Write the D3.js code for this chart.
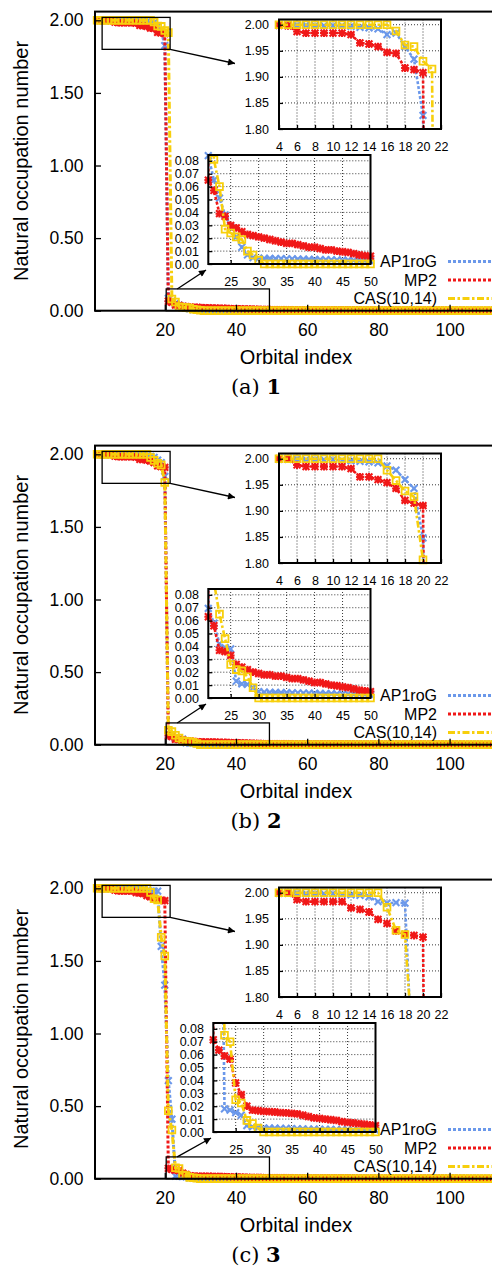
<!DOCTYPE html>
<html>
<head>
<meta charset="utf-8">
<script src="https://cdn.jsdelivr.net/npm/d3@7"></script>
<style>
  body { margin: 0; background: #fff; }
  svg { display: block; }
</style>
</head>
<body>
<svg id="chart" width="492" height="1268"></svg>
<script>
// occupation numbers, orbitals 1..50 for each molecule
var ap1rogA = [
  2.000, 2.000, 1.999, 1.999, 1.999, 1.999, 1.999, 1.998, 1.998, 1.998,
  1.998, 1.997, 1.995, 1.994, 1.992, 1.981, 1.984, 1.958, 1.934, 1.826,
  0.084, 0.065, 0.051, 0.038, 0.029, 0.021, 0.013, 0.007, 0.005, 0.0045,
  0.0044, 0.0043, 0.0042, 0.0041, 0.0040, 0.0039, 0.0038, 0.0037, 0.0036, 0.0035,
  0.0034, 0.0033, 0.0032, 0.0031, 0.0030, 0.0029, 0.0028, 0.0027, 0.0026, 0.0025
];
var mp2A = [
  2.000, 2.000, 1.999, 1.999, 1.998, 1.987, 1.984, 1.984, 1.984, 1.984,
  1.984, 1.981, 1.965, 1.963, 1.958, 1.947, 1.945, 1.917, 1.914, 1.908,
  0.065, 0.057, 0.039, 0.037, 0.030, 0.028, 0.025, 0.023, 0.022, 0.021,
  0.020, 0.019, 0.018, 0.017, 0.016, 0.016, 0.015, 0.014, 0.013, 0.013,
  0.012, 0.011, 0.011, 0.010, 0.0095, 0.009, 0.008, 0.007, 0.0065, 0.006
];
var casA = [
  2.000, 2.000, 2.000, 2.000, 2.000, 2.000, 2.000, 2.000, 2.000, 2.000,
  2.000, 2.000, 2.000, 2.000, 2.000, 2.000, 1.988, 1.961, 1.958, 1.930,
  1.915, 0.081, 0.060, 0.027, 0.024, 0.021, 0.019, 0.010, 0.007, 0.003,
  0, 0, 0, 0, 0, 0, 0, 0, 0, 0,
  0, 0, 0, 0, 0, 0, 0, 0, 0, 0
];

var ap1rogB = [
  2.000, 2.000, 1.999, 1.999, 1.999, 1.999, 1.998, 1.998, 1.998, 1.998,
  1.997, 1.996, 1.995, 1.994, 1.992, 1.986, 1.978, 1.960, 1.943, 1.848,
  0.0695, 0.058, 0.042, 0.039, 0.038, 0.013, 0.011, 0.0105, 0.008, 0.005,
  0.0045, 0.0044, 0.0043, 0.0042, 0.0041, 0.0040, 0.0039, 0.0038, 0.0037, 0.0036,
  0.0035, 0.0034, 0.0033, 0.0032, 0.0031, 0.0030, 0.0029, 0.0028, 0.0027, 0.0026
];
var mp2B = [
  2.000, 2.000, 1.999, 2.000, 2.000, 1.988, 1.985, 1.985, 1.985, 1.985,
  1.985, 1.981, 1.965, 1.965, 1.960, 1.954, 1.943, 1.920, 1.915, 1.910,
  0.063, 0.056, 0.037, 0.036, 0.033, 0.026, 0.024, 0.022, 0.020, 0.019,
  0.018, 0.018, 0.017, 0.017, 0.016, 0.015, 0.015, 0.014, 0.013, 0.012,
  0.012, 0.011, 0.010, 0.0095, 0.0087, 0.008, 0.007, 0.006, 0.0055, 0.005
];
var casB = [
  2.000, 2.000, 2.000, 2.000, 2.000, 2.000, 2.000, 2.000, 2.000, 2.000,
  2.000, 2.000, 2.000, 2.000, 2.000, 1.978, 1.958, 1.938, 1.927, 1.806,
  0.100, 0.090, 0.065, 0.046, 0.026, 0.022, 0.021, 0.0165, 0.008, 0,
  0, 0, 0, 0, 0, 0, 0, 0, 0, 0,
  0, 0, 0, 0, 0, 0, 0, 0, 0, 0
];

var ap1rogC = [
  2.000, 2.000, 1.999, 1.999, 1.999, 1.999, 1.998, 1.998, 1.998, 1.998,
  1.997, 1.996, 1.995, 1.992, 1.983, 1.980, 1.981, 1.980, 1.600, 1.333,
  0.675, 0.410, 0.018, 0.017, 0.015, 0.013, 0.005, 0.004, 0.0035, 0.003,
  0.003, 0.0029, 0.0028, 0.0027, 0.0026, 0.0025, 0.0024, 0.0023, 0.0022, 0.0021,
  0.0020, 0.0020, 0.0019, 0.0018, 0.0018, 0.0017, 0.0016, 0.0016, 0.0015, 0.0015
];
var mp2C = [
  2.000, 2.000, 1.999, 2.000, 2.000, 1.987, 1.983, 1.983, 1.983, 1.983,
  1.983, 1.971, 1.968, 1.963, 1.949, 1.941, 1.927, 1.920, 1.918, 1.915,
  0.0715, 0.0635, 0.059, 0.0565, 0.038, 0.029, 0.020, 0.017, 0.0165, 0.016,
  0.0158, 0.0155, 0.015, 0.0148, 0.0145, 0.014, 0.013, 0.012, 0.011, 0.0105,
  0.010, 0.0095, 0.009, 0.008, 0.0075, 0.007, 0.0065, 0.006, 0.0055, 0.005
];
var casC = [
  2.000, 2.000, 2.000, 2.000, 2.000, 2.000, 2.000, 2.000, 2.000, 2.000,
  2.000, 2.000, 2.000, 2.000, 2.000, 1.972, 1.928, 1.920, 1.663, 1.534,
  0.468, 0.335, 0.075, 0.070, 0.025, 0.0225, 0.009, 0.0065, 0.003, 0,
  0, 0, 0, 0, 0, 0, 0, 0, 0, 0,
  0, 0, 0, 0, 0, 0, 0, 0, 0, 0
];

// orbitals 51..114, all well below one pixel on the main axis
var ap1rogTail = [
  0.0025, 0.0024, 0.0024, 0.0023, 0.0023, 0.0022, 0.0022, 0.0021, 0.0021, 0.0020,
  0.0020, 0.0019, 0.0019, 0.0018, 0.0018, 0.0017, 0.0017, 0.0016, 0.0016, 0.0015,
  0.0015, 0.0015, 0.0014, 0.0014, 0.0013, 0.0013, 0.0013, 0.0012, 0.0012, 0.0011,
  0.0011, 0.0011, 0.0010, 0.0010, 0.0010, 0.0009, 0.0009, 0.0009, 0.0008, 0.0008,
  0.0008, 0.0008, 0.0007, 0.0007, 0.0007, 0.0007, 0.0006, 0.0006, 0.0006, 0.0006,
  0.0005, 0.0005, 0.0005, 0.0005, 0.0005, 0.0004, 0.0004, 0.0004, 0.0004, 0.0004,
  0.0003, 0.0003, 0.0003, 0.0003
];
var mp2Tail = [
  0.0055, 0.0053, 0.0052, 0.0050, 0.0049, 0.0047, 0.0046, 0.0045, 0.0043, 0.0042,
  0.0041, 0.0040, 0.0039, 0.0038, 0.0037, 0.0036, 0.0035, 0.0034, 0.0033, 0.0032,
  0.0031, 0.0030, 0.0029, 0.0029, 0.0028, 0.0027, 0.0026, 0.0026, 0.0025, 0.0024,
  0.0024, 0.0023, 0.0022, 0.0022, 0.0021, 0.0021, 0.0020, 0.0019, 0.0019, 0.0018,
  0.0018, 0.0017, 0.0017, 0.0016, 0.0016, 0.0015, 0.0015, 0.0014, 0.0014, 0.0013,
  0.0013, 0.0012, 0.0012, 0.0012, 0.0011, 0.0011, 0.0010, 0.0010, 0.0010, 0.0009,
  0.0009, 0.0009, 0.0008, 0.0008
];
var casTail = [
  0, 0, 0, 0, 0, 0, 0, 0, 0, 0, 0, 0, 0, 0, 0, 0,
  0, 0, 0, 0, 0, 0, 0, 0, 0, 0, 0, 0, 0, 0, 0, 0,
  0, 0, 0, 0, 0, 0, 0, 0, 0, 0, 0, 0, 0, 0, 0, 0,
  0, 0, 0, 0, 0, 0, 0, 0, 0, 0, 0, 0, 0, 0, 0, 0
];

var methodNames = ['AP1roG', 'MP2', 'CAS(10,14)'];
var captionLetters = ['a', 'b', 'c'];
var captionNumbers = ['1', '2', '3'];

var mainYTicks = [0, 0.5, 1, 1.5, 2];
var mainXTicks = [20, 40, 60, 80, 100];
var topInsetXTicks = [4, 6, 8, 10, 12, 14, 16, 18, 20, 22];
var topInsetYTicks = [1.80, 1.85, 1.90, 1.95, 2.00];
var botInsetXTicks = [25, 30, 35, 40, 45, 50];
var botInsetYTicks = [0, 0.01, 0.02, 0.03, 0.04, 0.05, 0.06, 0.07, 0.08];

var colors = ['#6b98ea', '#f01818', '#f7cf0c'];
var dashes = ['3,2', '3,2', '7,2.5,2.5,2.5'];
var markers = ['cross', 'star', 'square'];
var sans = '"Liberation Sans", Arial, Helvetica, sans-serif';
var PANEL_DY = 434;

var svg = d3.select('#chart');
var defs = svg.append('defs');
defs.append('marker')
  .attr('id', 'arrowhead')
  .attr('viewBox', '0 0 10 10')
  .attr('refX', 10).attr('refY', 5)
  .attr('markerWidth', 10).attr('markerHeight', 7)
  .attr('markerUnits', 'userSpaceOnUse')
  .attr('orient', 'auto')
  .append('path').attr('d', 'M0,0 L10,5 L0,10 Z').attr('fill', '#000');

var panels = [
  { series: [ap1rogA.concat(ap1rogTail), mp2A.concat(mp2Tail), casA.concat(casTail)], shift: 0 },
  { series: [ap1rogB.concat(ap1rogTail), mp2B.concat(mp2Tail), casB.concat(casTail)], shift: 0 },
  { series: [ap1rogC.concat(ap1rogTail), mp2C.concat(mp2Tail), casC.concat(casTail)], shift: 5 }
];

function toPoints(values) {
  return values.map(function(v, i) { return { i: i + 1, v: v }; });
}

function markerPath(type, s) {
  if (type === 'cross') {
    return 'M' + -s + ',' + -s + 'L' + s + ',' + s + 'M' + -s + ',' + s + 'L' + s + ',' + -s;
  }
  if (type === 'star') {
    var t = s * 1.15;
    return 'M' + -s + ',' + -s + 'L' + s + ',' + s + 'M' + -s + ',' + s + 'L' + s + ',' + -s +
      'M' + -t + ',0L' + t + ',0M0,' + -t + 'L0,' + t;
  }
  return 'M' + -s + ',' + -s + 'H' + s + 'V' + s + 'H' + -s + 'Z';
}

function drawSeries(g, x, y, clipId, lw, ms) {
  var dom = x.domain(), ydom = y.domain();
  var line = d3.line().x(function(d) { return x(d.i); }).y(function(d) { return y(d.v); });
  return function(values, k) {
    var pts = toPoints(values);
    g.append('path')
      .datum(pts)
      .attr('clip-path', 'url(#' + clipId + ')')
      .attr('d', line)
      .attr('fill', 'none')
      .attr('stroke', colors[k])
      .attr('stroke-width', lw)
      .attr('stroke-dasharray', dashes[k]);
    var inside = pts.filter(function(d) {
      return d.i >= dom[0] - 1e-6 && d.i <= dom[1] + 1e-6 && d.v >= ydom[0] - 1e-6 && d.v <= ydom[1] + 1e-6;
    });
    g.selectAll(null)
      .data(inside)
      .enter().append('path')
      .attr('transform', function(d) { return 'translate(' + x(d.i) + ',' + y(d.v) + ')'; })
      .attr('d', markerPath(markers[k], ms))
      .attr('fill', 'none')
      .attr('stroke', colors[k])
      .attr('stroke-width', markers[k] === 'square' ? 1.8 : 2.1);
  };
}

function styleAxis(sel, size) {
  sel.select('.domain').remove();
  sel.selectAll('.tick line').attr('stroke', '#000').attr('stroke-width', 1.3);
  sel.selectAll('.tick text')
    .attr('fill', '#000')
    .style('font-family', sans)
    .style('font-size', size + 'px');
}

function drawInset(g, opt, seriesList, clipId) {
  var x = d3.scaleLinear().domain(opt.xd).range([opt.x0, opt.x1]);
  var y = d3.scaleLinear().domain(opt.yd).range([opt.y1, opt.y0]);

  g.append('clipPath').attr('id', clipId)
    .append('rect').attr('x', opt.x0).attr('y', opt.y0)
    .attr('width', opt.x1 - opt.x0).attr('height', opt.y1 - opt.y0);

  g.append('rect')
    .attr('x', opt.x0).attr('y', opt.y0)
    .attr('width', opt.x1 - opt.x0).attr('height', opt.y1 - opt.y0)
    .attr('fill', '#fff');

  var grid = g.append('g')
    .attr('stroke', '#222').attr('stroke-width', 0.9).attr('stroke-dasharray', '1,2');
  opt.xt.forEach(function(t) {
    if (x(t) > opt.x0 + 1 && x(t) < opt.x1 - 1) {
      grid.append('line').attr('x1', x(t)).attr('x2', x(t)).attr('y1', opt.y0).attr('y2', opt.y1);
    }
  });
  opt.yt.forEach(function(t) {
    if (y(t) > opt.y0 + 1 && y(t) < opt.y1 - 1) {
      grid.append('line').attr('y1', y(t)).attr('y2', y(t)).attr('x1', opt.x0).attr('x2', opt.x1);
    }
  });

  var draw = drawSeries(g, x, y, clipId, 2.6, 3.4);
  seriesList.forEach(draw);

  var ax = g.append('g')
    .attr('transform', 'translate(0,' + opt.y1 + ')')
    .call(d3.axisBottom(x).tickValues(opt.xt).tickSize(-4).tickPadding(opt.xpad).tickFormat(d3.format('d')));
  styleAxis(ax, 12.5);
  var ay = g.append('g')
    .attr('transform', 'translate(' + opt.x0 + ',0)')
    .call(d3.axisLeft(y).tickValues(opt.yt).tickSize(-4).tickPadding(opt.ypad).tickFormat(d3.format('.2f')));
  styleAxis(ay, 12.5);

  g.append('rect')
    .attr('x', opt.x0).attr('y', opt.y0)
    .attr('width', opt.x1 - opt.x0).attr('height', opt.y1 - opt.y0)
    .attr('fill', 'none').attr('stroke', '#000').attr('stroke-width', 2);
}

panels.forEach(function(p, k) {
  var g = svg.append('g').attr('transform', 'translate(0,' + k * PANEL_DY + ')');

  var x = d3.scaleLinear().domain([0.4, 120]).range([95, 95 + 119.6 * 3.56]);
  var y = d3.scaleLinear().domain([0, 2.06]).range([310.7, 11.6]);
  var clipId = 'main' + k;

  g.append('clipPath').attr('id', clipId)
    .append('rect').attr('x', 95).attr('y', 11.6).attr('width', 500).attr('height', 299.1);

  var draw = drawSeries(g, x, y, clipId, 3, 3.4);
  p.series.forEach(draw);

  var ay = g.append('g')
    .attr('transform', 'translate(95,0)')
    .call(d3.axisLeft(y).tickValues(mainYTicks).tickSize(-6).tickPadding(11.5).tickFormat(d3.format('.2f')));
  styleAxis(ay, 17.5);
  var ax = g.append('g')
    .attr('transform', 'translate(0,310.7)')
    .call(d3.axisBottom(x).tickValues(mainXTicks).tickSize(-6).tickPadding(13).tickFormat(d3.format('d')));
  styleAxis(ax, 17.5);

  g.append('rect')
    .attr('x', 95).attr('y', 11.6).attr('width', 520).attr('height', 299.1)
    .attr('fill', 'none').attr('stroke', '#000').attr('stroke-width', 2);

  // zoom boxes and arrows
  var bx0 = x(2.4), bx1 = x(21.5), by0 = y(2.02), by1 = y(1.80);
  g.append('rect').attr('x', bx0).attr('y', by0).attr('width', bx1 - bx0).attr('height', by1 - by0)
    .attr('fill', 'none').attr('stroke', '#000').attr('stroke-width', 1.3);
  g.append('line').attr('x1', bx1).attr('y1', by1).attr('x2', 235).attr('y2', 63.5)
    .attr('stroke', '#000').attr('stroke-width', 1.3).attr('marker-end', 'url(#arrowhead)');

  var cx0 = x(20.4), cx1 = x(49.4), cy0 = y(0.15), cy1 = y(0);
  g.append('rect').attr('x', cx0).attr('y', cy0).attr('width', cx1 - cx0).attr('height', cy1 - cy0)
    .attr('fill', 'none').attr('stroke', '#000').attr('stroke-width', 1.3);
  g.append('line').attr('x1', cx0 + 11).attr('y1', cy0).attr('x2', 206 + p.shift).attr('y2', 270)
    .attr('stroke', '#000').attr('stroke-width', 1.3).attr('marker-end', 'url(#arrowhead)');

  drawInset(g, {
    x0: 279, x1: 441, y0: 19.5, y1: 129,
    xd: [4, 22], yd: [1.80, 2.01], xt: topInsetXTicks, yt: topInsetYTicks,
    xpad: 13.3, ypad: 10
  }, p.series, 'top' + k);

  drawInset(g, {
    x0: 208.3 + p.shift, x1: 370.5 + p.shift, y0: 155, y1: 264,
    xd: [21, 50], yd: [0, 0.0845], xt: botInsetXTicks, yt: botInsetYTicks,
    xpad: 13.6, ypad: 9.3
  }, p.series, 'bot' + k);

  // legend
  var legY = [261.5, 280, 298.5];
  methodNames.forEach(function(name, j) {
    g.append('text')
      .attr('x', 437).attr('y', legY[j]).attr('dy', '0.35em')
      .attr('text-anchor', 'end')
      .style('font-family', sans).style('font-size', '16px')
      .text(name);
    g.append('line')
      .attr('x1', 448).attr('x2', 520).attr('y1', legY[j]).attr('y2', legY[j])
      .attr('stroke', colors[j]).attr('stroke-width', 3)
      .attr('stroke-dasharray', dashes[j]);
  });

  // axis titles
  g.append('text')
    .attr('x', 296).attr('y', 356.7).attr('dy', '0.35em')
    .attr('text-anchor', 'middle')
    .style('font-family', sans).style('font-size', '20px')
    .text('Orbital index');
  g.append('text')
    .attr('transform', 'translate(21,161) rotate(-90)')
    .attr('dy', '0.35em')
    .attr('text-anchor', 'middle')
    .style('font-family', sans).style('font-size', '20px')
    .text('Natural occupation number');

  // caption
  var cap = g.append('text')
    .attr('x', 256).attr('y', 387).attr('dy', '0.35em')
    .attr('text-anchor', 'middle')
    .style('font-family', '"DejaVu Serif", "Liberation Serif", serif')
    .style('font-size', '21px');
  cap.append('tspan').text('(' + captionLetters[k] + ') ');
  cap.append('tspan').attr('font-weight', 'bold').text(captionNumbers[k]);
});
</script>
</body>
</html>
